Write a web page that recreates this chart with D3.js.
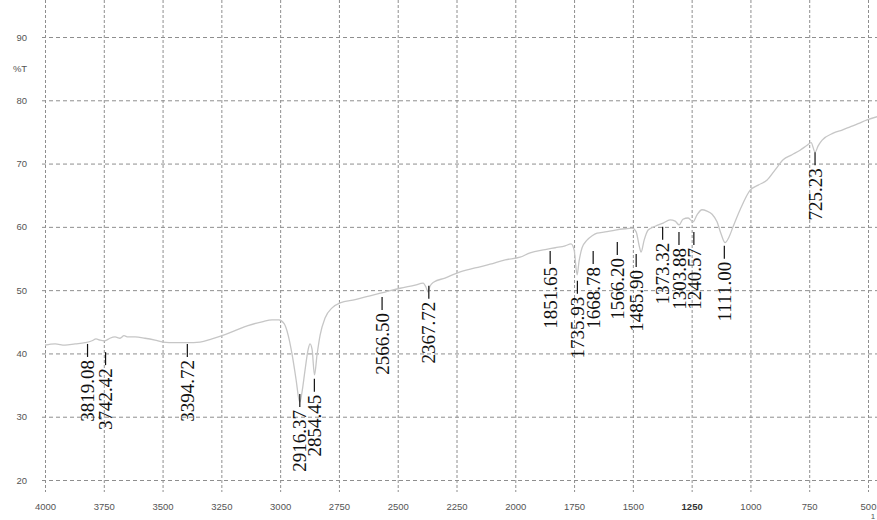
<!DOCTYPE html>
<html>
<head>
<meta charset="utf-8">
<script src="https://cdn.jsdelivr.net/npm/d3@7"></script>
<style>
  html, body { margin: 0; padding: 0; background: #fff; }
  svg { display: block; }
</style>
</head>
<body>
<svg id="chart" width="877" height="520"></svg>
<script>
// IR transmittance spectrum (wavenumber in cm-1, transmittance in %T)
const wavenumbers = [
  4000, 3957, 3915, 3872, 3830, 3800, 3783, 3766, 3745, 3724, 3702, 3681, 3664, 3647,
  3617, 3575, 3532, 3498, 3447, 3396, 3341, 3290, 3247, 3192, 3137, 3077, 3034, 3005,
  2983, 2966, 2949, 2932, 2920, 2916, 2907, 2894, 2881, 2873, 2864, 2854, 2843, 2830,
  2809, 2779, 2745, 2681, 2618, 2554, 2490, 2426, 2392, 2380, 2371, 2363, 2346, 2299,
  2248, 2171, 2107, 2043, 1980, 1937, 1873, 1830, 1788, 1763, 1750, 1737, 1729, 1716,
  1695, 1673, 1652, 1618, 1575, 1533, 1503, 1486, 1473, 1465, 1452, 1435, 1405, 1371,
  1342, 1320, 1303, 1287, 1265, 1244, 1227, 1206, 1185, 1163, 1142, 1125, 1108, 1091,
  1074, 1044, 1001, 967, 929, 895, 861, 823, 789, 759, 742, 725, 712, 695, 648, 610,
  576, 542, 504, 461
];
const transmittance = [
  41.3, 41.5, 41.3, 41.5, 41.7, 42.0, 42.3, 42.1, 42.0, 42.4, 42.6, 42.4, 42.8, 42.6,
  42.6, 42.4, 42.1, 41.8, 41.7, 41.7, 41.8, 42.3, 42.8, 43.6, 44.4, 45.0, 45.3, 45.3,
  44.7, 42.9, 39.8, 35.8, 32.7, 32.3, 33.9, 37.4, 40.6, 41.5, 40.6, 36.6, 39.8, 42.9,
  45.6, 47.2, 48.0, 48.5, 49.1, 49.7, 50.3, 50.8, 51.1, 50.5, 49.7, 50.6, 51.3, 51.9,
  52.7, 53.5, 54.1, 54.8, 55.2, 55.9, 56.4, 56.7, 57.0, 57.3, 56.4, 52.4, 54.5, 56.7,
  57.9, 58.6, 59.0, 59.2, 59.5, 59.7, 59.8, 59.2, 57.0, 56.0, 57.9, 59.5, 60.1, 60.6,
  61.1, 60.9, 60.3, 61.2, 61.4, 60.8, 61.9, 62.7, 62.5, 62.0, 60.8, 58.9, 57.5, 58.4,
  60.0, 62.7, 65.8, 66.6, 67.4, 69.0, 70.6, 71.4, 72.1, 72.9, 73.3, 71.8, 72.8, 73.7,
  74.8, 75.3, 75.8, 76.3, 76.9, 77.4
];

// Picked peaks: wavenumber and the %T level where each peak marker starts
const peakWave = [3819.08, 3742.42, 3394.72, 2916.37, 2854.45, 2566.50, 2367.72,
  1851.65, 1735.93, 1668.78, 1566.20, 1485.90, 1373.32, 1303.88, 1240.57, 1111.00, 725.23];
const peakT = [41.5, 40.2, 41.5, 33.6, 36.0, 48.9, 50.7,
  56.2, 51.5, 56.2, 57.6, 55.7, 60.0, 59.2, 59.2, 57.0, 71.8];

// Axis ticks
const xTicks = [4000, 3750, 3500, 3250, 3000, 2750, 2500, 2250, 2000, 1750, 1500, 1250, 1000, 750, 500];
const yTicks = [20, 30, 40, 50, 60, 70, 80, 90];

const W = 877, H = 520;
const svg = d3.select("#chart");

const x = d3.scaleLinear().domain([4000, 500]).range([45, 868]);
const y = d3.scaleLinear().domain([20, 90]).range([480, 37]);

const gridLeft = 42, gridBottom = 492;
const gridColor = "#8e8e8e";
const axisFont = "Liberation Sans, Arial, sans-serif";

// vertical grid + wavenumber labels
const gx = svg.append("g")
  .call(d3.axisBottom(x).tickValues(xTicks).tickSize(gridBottom).tickPadding(11).tickFormat(d3.format("d")));
gx.select(".domain").remove();
gx.selectAll(".tick line")
  .attr("stroke", gridColor).attr("stroke-width", 1).attr("stroke-dasharray", "3,2");
gx.selectAll(".tick text")
  .attr("font-family", axisFont)
  .attr("font-size", 9.5)
  .attr("font-weight", d => d === 1250 ? "bold" : "normal")
  .attr("fill", d => d === 1250 ? "#333" : "#555");

// horizontal grid + %T labels
const gy = svg.append("g")
  .attr("transform", `translate(${gridLeft},0)`)
  .call(d3.axisLeft(y).tickValues(yTicks).tickSize(-(W - gridLeft)).tickPadding(15).tickFormat(d3.format("d")));
gy.select(".domain").remove();
gy.selectAll(".tick line")
  .attr("stroke", gridColor).attr("stroke-width", 1).attr("stroke-dasharray", "4,3");
gy.selectAll(".tick text")
  .attr("fill", "#555").attr("font-family", axisFont)
  .attr("font-size", 9.5);

svg.append("text")
  .attr("x", 20).attr("y", 69).attr("dy", "0.35em")
  .attr("text-anchor", "middle")
  .attr("fill", "#555").attr("font-family", axisFont)
  .attr("font-size", 9.5)
  .text("%T");

svg.append("text")
  .attr("x", 873).attr("y", 519)
  .attr("text-anchor", "middle")
  .attr("fill", "#555").attr("font-family", axisFont)
  .attr("font-size", 8)
  .text("1");

// spectrum trace
const spectrum = wavenumbers.map((w, i) => ({ w, t: transmittance[i] }));
svg.append("path")
  .datum(spectrum)
  .attr("fill", "none")
  .attr("stroke", "#c6c6c6")
  .attr("stroke-width", 1.3)
  .attr("d", d3.line().x(d => x(d.w)).y(d => y(d.t)).curve(d3.curveMonotoneX));

// peak markers and labels
const peaks = peakWave.map((w, i) => ({ w, t: peakT[i] }));
const pg = svg.append("g").selectAll("g").data(peaks).join("g")
  .attr("transform", d => `translate(${x(d.w)},${y(d.t)})`);
pg.append("line")
  .attr("x1", 0).attr("x2", 0).attr("y1", 0).attr("y2", 13)
  .attr("stroke", "#111").attr("stroke-width", 1.2);
pg.append("text")
  .attr("transform", "translate(0,16) rotate(-90)")
  .attr("text-anchor", "end")
  .attr("dy", "0.35em")
  .attr("fill", "#111")
  .attr("font-family", "Liberation Serif, Times New Roman, serif")
  .attr("font-size", 19)
  .text(d => d.w.toFixed(2));
</script>
</body>
</html>
